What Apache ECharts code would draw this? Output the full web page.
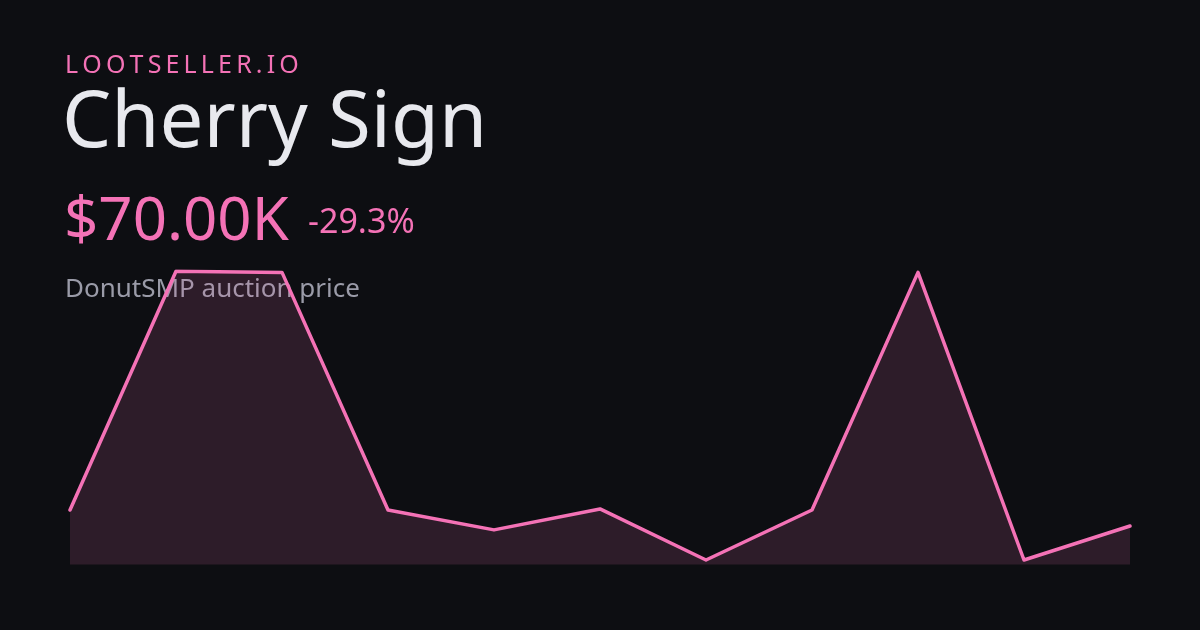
<!DOCTYPE html>
<html>
<head>
<meta charset="utf-8">
<style>
html,body{margin:0;padding:0;background:#0d0e12;}
#c{width:1200px;height:630px;}
</style>
<script src="https://cdn.jsdelivr.net/npm/echarts@6/dist/echarts.min.js"></script>
</head>
<body>
<div id="c"></div>
<script>
const brand = "LOOTSELLER.IO";
const itemName = "Cherry Sign";
const priceLabel = "$70.00K";
const changeLabel = "-29.3%";
const subtitle = "DonutSMP auction price";
const periods = ["1","2","3","4","5","6","7","8","9","10","11"];
const prices = [99, 532, 530, 99, 63, 101, 8.4, 99, 530, 8.4, 70];

const spaced = brand.split("").join("\u2009");
const chart = echarts.init(document.getElementById('c'), null, {renderer:'canvas'});
const font = "'Noto Sans', sans-serif";
chart.setOption({
  backgroundColor: '#0d0e12',
  animation: false,
  grid: {left: 70, right: 70, top: 271, bottom: 64},
  xAxis: {type: 'category', data: periods, boundaryGap: false, show: false},
  yAxis: {type: 'value', min: -2.5, max: 532.5, show: false},
  graphic: [
    {type:'text', left: 65, top: 53, z: 0, style:{text: spaced, fill:'#f472b6', font: "400 25px " + font}},
    {type:'text', left: 62, top: 86, z: 0, style:{text: itemName, fill:'#e8e9ee', font: "400 78px " + font}},
    {type:'text', left: 64, top: 193, z: 0, style:{text: priceLabel, fill:'#f472b6', font: "400 60px " + font}},
    {type:'text', left: 308, top: 206, z: 0, style:{text: changeLabel, fill:'#f472b6', font: "400 34px " + font}},
    {type:'text', left: 65, top: 277, z: 0, style:{text: subtitle, fill:'#9a9ba8', font: "400 26px " + font}}
  ],
  series: [{
    type: 'line',
    data: prices,
    symbol: 'none',
    z: 5,
    lineStyle: {color: '#f472b6', width: 3.5, cap: 'round', join: 'round'},
    areaStyle: {color: 'rgba(244,114,182,0.2)'}
  }]
});
</script>
</body>
</html>
